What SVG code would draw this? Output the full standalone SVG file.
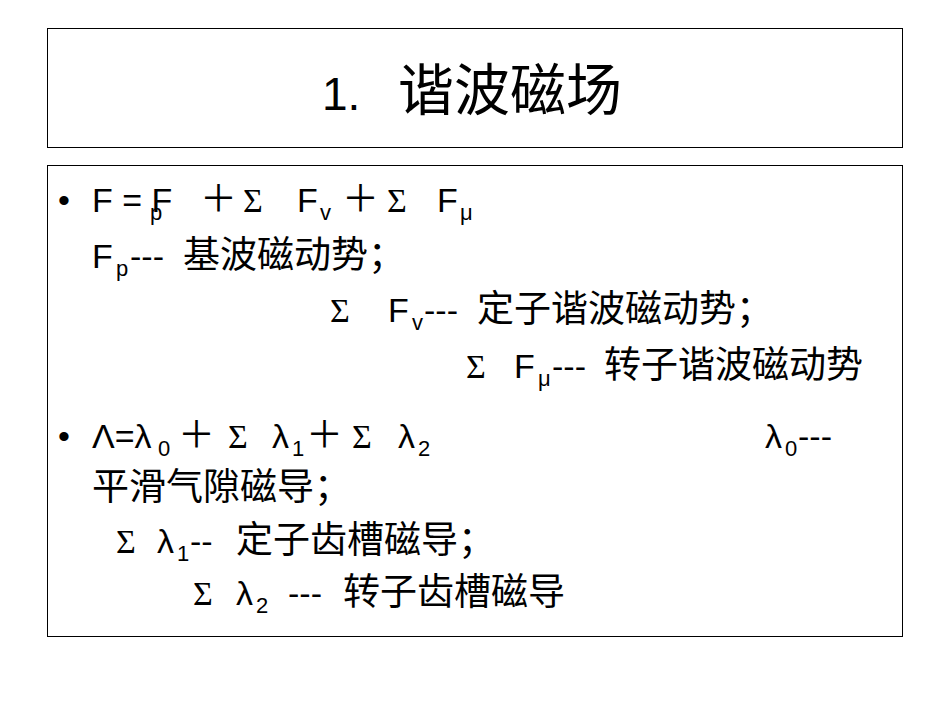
<svg xmlns="http://www.w3.org/2000/svg" width="950" height="713" viewBox="0 0 950 713">
<style>
.t{font-family:"Liberation Sans","Noto Sans CJK SC",sans-serif;font-size:34px;fill:#000}
.s{font-size:22px}
.c{font-size:37px}
.g{font-family:"Liberation Serif","Noto Sans CJK SC",serif;font-size:34px}
.box{fill:none;stroke:#000;stroke-width:1}
</style>
<rect width="950" height="713" fill="#fff"/>
<g id="title">
<rect class="box" x="47.5" y="28.5" width="855" height="119"/>
<text class="t" y="110" style="font-size:46px"><tspan x="322">1.</tspan><tspan x="398" style="font-size:56px">谐波磁场</tspan></text>
</g>
<g id="body">
<rect class="box" x="47.5" y="165.5" width="855" height="471"/>
<text class="t" x="58" y="212">•</text>
<text class="t" y="212"><tspan x="92">F = F</tspan><tspan class="s" x="150" dy="8">p</tspan><tspan class="c" x="200" dy="-8">＋</tspan><tspan class="g" x="243">Σ</tspan><tspan x="297">F</tspan><tspan class="s" x="320" dy="8">v</tspan><tspan class="c" x="342" dy="-8">＋</tspan><tspan class="g" x="387">Σ</tspan><tspan x="437">F</tspan><tspan class="s" x="460" dy="8">μ</tspan></text>
<text class="t" y="268"><tspan x="92">F</tspan><tspan class="s" x="116" dy="8">p</tspan><tspan x="130" dy="-8">---</tspan><tspan class="c" x="183">基波磁动势；</tspan></text>
<text class="t" y="322"><tspan class="g" x="330">Σ</tspan><tspan x="388">F</tspan><tspan class="s" x="412" dy="8">v</tspan><tspan x="424" dy="-8">---</tspan><tspan class="c" x="477">定子谐波磁动势；</tspan></text>
<text class="t" y="378"><tspan class="g" x="466">Σ</tspan><tspan x="514">F</tspan><tspan class="s" x="538" dy="8">μ</tspan><tspan x="552" dy="-8">---</tspan><tspan class="c" x="604">转子谐波磁动势</tspan></text>
<text class="t" x="58" y="448">•</text>
<text class="t" y="448"><tspan x="92">Λ=λ</tspan><tspan class="s" x="158" dy="8">0</tspan><tspan class="c" x="178" dy="-8">＋</tspan><tspan class="g" x="228">Σ</tspan><tspan x="272">λ</tspan><tspan class="s" x="292" dy="8">1</tspan><tspan class="c" x="306" dy="-8">＋</tspan><tspan class="g" x="352">Σ</tspan><tspan x="398">λ</tspan><tspan class="s" x="418" dy="8">2</tspan></text>
<text class="t" y="448"><tspan x="765">λ</tspan><tspan class="s" x="785" dy="8">0</tspan><tspan x="798" dy="-8">---</tspan></text>
<text class="t c" x="92" y="500">平滑气隙磁导；</text>
<text class="t" y="553"><tspan class="g" x="116">Σ</tspan><tspan x="157">λ</tspan><tspan class="s" x="177" dy="8">1</tspan><tspan x="190" dy="-8">--</tspan><tspan class="c" x="236">定子齿槽磁导；</tspan></text>
<text class="t" y="605"><tspan class="g" x="193">Σ</tspan><tspan x="236">λ</tspan><tspan class="s" x="256" dy="8">2</tspan><tspan x="288" dy="-8">---</tspan><tspan class="c" x="343">转子齿槽磁导</tspan></text>
</g>
</svg>
